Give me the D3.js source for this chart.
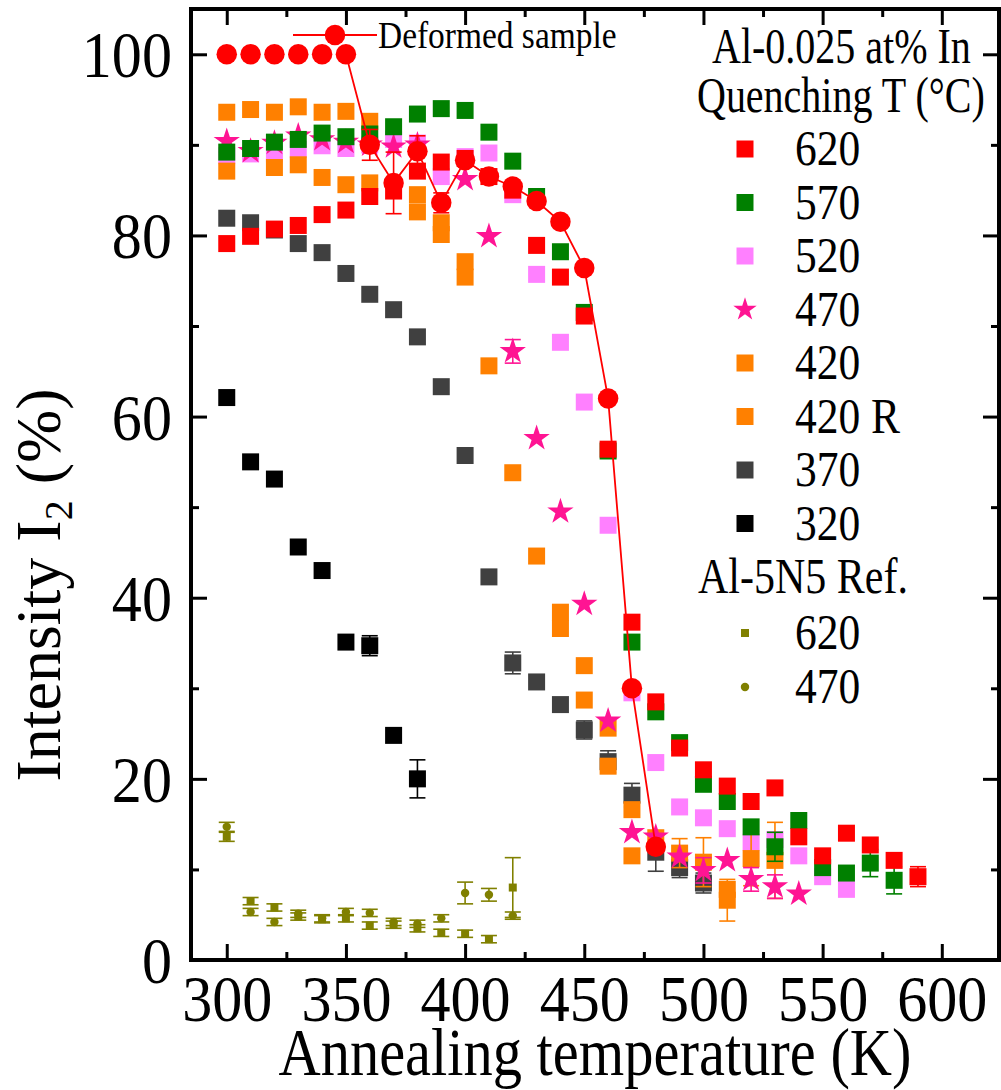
<!DOCTYPE html>
<html>
<head>
<meta charset="utf-8">
<script src="https://cdn.jsdelivr.net/npm/d3@7"></script>
<style>
  body { margin: 0; background: #fff; }
  text { font-family: "Liberation Serif", "Times New Roman", serif; fill: #000; }
</style>
</head>
<body>
<svg id="chart" width="1001" height="1090"></svg>
<script>
// Températures de recuit (K), communes à toutes les séries
const temps = [300, 310, 320, 330, 340, 350, 360, 370, 380, 390, 400, 410, 420, 430, 440,
               450, 460, 470, 480, 490, 500, 510, 520, 530, 540, 550, 560, 570, 580, 590];

// Intensité I2 (%) par température de trempe (°C)
const q620 = [79.1, 79.9, 80.7, 81.1, 82.3, 82.8, 84.3, 84.9, 87.1, 88.1, 88.5, 86.5, 85.0, 78.9, 75.4,
              71.1, 56.4, 37.3, 28.5, 23.4, 21.0, 19.2, 17.5, 19.0, 13.6, 11.5, 14.0, 12.7, 11.0, 9.2];
const q620Err = [0, 0, 0, 0, 0, 0, 0, 0, 0, 0, 0, 0, 0, 0, 0,
                 0, 0, 0, 0, 0, 0, 0, 0, 0, 0, 0, 0, 0, 0, 1.1];
const q570 = [89.2, 89.6, 90.3, 90.6, 91.3, 90.9, 91.2, 92.0, 93.4, 94.0, 93.8, 91.4, 88.2, 84.3, 78.2,
              71.5, 56.2, 35.1, 27.4, 24.0, 19.4, 17.5, 14.7, 12.5, 15.4, 10.2, 9.6, 10.7, 8.8, null];
const q570Err = [0, 0, 0, 0, 0, 0, 0, 0, 0, 0, 0, 0, 0, 0, 0,
                 0, 0, 0, 0, 0, 0, 0, 0, 1.6, 0, 0, 0, 1.5, 1.5, 0];
const q520 = [88.8, 89.0, 89.0, 89.5, 89.9, 89.6, 90.0, 90.6, 90.2, 86.5, 88.7, 89.1, 84.5, 75.7, 68.2,
              61.6, 48.0, 29.5, 21.8, 16.9, 15.7, 14.5, 13.0, 13.3, 11.5, 9.2, 7.8, null, null, null];
const q470 = [90.4, 89.3, 90.2, 91.0, 90.6, 90.3, 90.0, 89.8, 90.0, null, 86.2, 79.9, 67.2, 57.6, 49.5,
              39.3, 26.4, 14.1, 13.6, 11.4, 9.9, 11.0, 8.9, 8.1, 7.3, null, null, null, null, null];
const q470Err = [0, 0, 0, 0, 0, 0, 0, 0, 0, 0, 0, 0, 1.3, 0, 0,
                 0, 0, 0, 0, 0, 1.4, 0, 1.3, 1.3, 0, 0, 0, 0, 0, 0];
const q420 = [87.1, null, 87.5, 87.8, 86.4, 85.6, 85.8, null, 82.6, 80.1, 75.4, 65.6, 53.8, 44.6, 36.6,
              28.7, 21.4, 11.5, 13.5, 11.8, 10.8, 6.6, 11.2, 11.0, null, null, null, null, null, null];
const q420Err = [0, 0, 0, 0, 0, 0, 0, 0, 0, 0, 0, 0, 0, 0, 0,
                 0, 0, 0, 0, 1.6, 2.7, 2.3, 3.0, 4.2, 0, 0, 0, 0, 0, 0];
const q420R = [93.6, 93.9, 93.6, 94.2, 93.6, 93.7, 92.6, null, 84.5, 81.4, 77.1, null, null, null, 38.4,
               32.5, 25.6, 16.6, null, null, null, 7.8, null, null, null, null, null, null, null, null];
const q370 = [81.9, 81.4, 80.6, 79.1, 78.1, 75.8, 73.5, 71.8, 68.8, 63.3, 55.7, 42.3, 32.8, 30.7, 28.2,
              25.4, 21.9, 18.2, 11.9, 10.2, 8.5, null, null, null, null, null, null, null, null, null];
const q370Err = [0, 0, 0, 0, 0, 0, 0, 0, 0, 0, 0, 0, 1.2, 0, 0,
                 1.0, 1.2, 1.3, 2.1, 1.1, 1.1, 0, 0, 0, 0, 0, 0, 0, 0, 0];
const q320 = [62.1, 55.0, 53.1, 45.6, 43.0, 35.1, 34.7, 24.8, 20.0];
const q320Err = [0, 0, 0, 0, 0, 0, 1.1, 0, 2.1];

// Référence Al-5N5
const ref620 = [13.6, 6.5, 5.8, 4.8, 4.5, 4.6, 3.8, 3.9, 3.5, 3.0, 2.9, 2.3, 8.0];
const ref620Err = [0.5, 0.4, 0.4, 0.4, 0.4, 0.4, 0.4, 0.4, 0.4, 0.4, 0.4, 0.4, 3.3];
const ref470 = [14.7, 5.3, 4.2, 5.1, 4.6, 5.3, 5.2, 4.2, 4.0, 4.6, 7.4, 7.2, 4.9];
const ref470Err = [0.5, 0.4, 0.4, 0.4, 0.4, 0.4, 0.4, 0.4, 0.4, 0.4, 1.2, 0.7, 0.4];

// Échantillon déformé
const deformed = [100, 100, 100, 100, 100, 100, 90.0, 85.8, 89.3, 83.6, 88.3, 86.5, 85.4, 83.8, 81.5,
                  76.4, 62.0, 30.0, 12.5];
const deformedErr = [0, 0, 0, 0, 0, 0, 1.7, 3.4, 1.7, 1.1, 0.6, 0, 0, 0, 0, 0, 0, 0, 0];

// Graduations et textes
const xMajor = [300, 350, 400, 450, 500, 550, 600];
const xMinor = [325, 375, 425, 475, 525, 575];
const yMajor = [0, 20, 40, 60, 80, 100];
const yMinor = [10, 30, 50, 70, 90];
const legendTitle = ["Al-0.025 at% In", "Quenching T (°C)"];
const legendLabels = ["620", "570", "520", "470", "420", "420 R", "370", "320"];
const refTitle = "Al-5N5 Ref.";
const refLabels = ["620", "470"];

const svg = d3.select("#chart");
const plot = { left: 191, right: 999, top: 9, bottom: 960 };

const x = d3.scaleLinear().domain([285, 624]).range([plot.left, plot.right]);
const y = d3.scaleLinear().domain([0, 105]).range([plot.bottom, plot.top]);

svg.append("rect").attr("width", 1001).attr("height", 1090).attr("fill", "#fff");

// Texte un peu condensé comme sur la figure d'origine
function label(str, px, py, size, sx, anchor = "start") {
  return svg.append("text")
    .attr("transform", `translate(${px},${py}) scale(${sx},1)`)
    .attr("font-size", size)
    .attr("text-anchor", anchor)
    .text(str);
}

// Construit une liste de points à partir d'un tableau de valeurs
function points(vals, errs) {
  return vals.map((v, i) => ({ t: temps[i], v, e: errs ? errs[i] : 0 }))
    .filter(d => d.v != null);
}

const sym = {
  square: d3.symbol().type(d3.symbolSquare).size(289),
  star: d3.symbol().type(d3.symbolStar).size(215),
  circle: d3.symbol().type(d3.symbolCircle).size(330),
  smallSquare: d3.symbol().type(d3.symbolSquare).size(64),
  smallCircle: d3.symbol().type(d3.symbolCircle).size(56)
};

// Ordre de tracé (du fond vers le dessus)
const series = [
  { vals: q370, err: q370Err, color: "#404040", shape: "square" },
  { vals: q320, err: q320Err, color: "#000000", shape: "square" },
  { vals: q520, err: null, color: "#ff80ff", shape: "square" },
  { vals: q420, err: q420Err, color: "#ff8000", shape: "square" },
  { vals: q420R, err: null, color: "#ff8000", shape: "square" },
  { vals: q470, err: q470Err, color: "#ff1493", shape: "star" },
  { vals: q570, err: q570Err, color: "#008000", shape: "square" },
  { vals: q620, err: q620Err, color: "#ff0000", shape: "square" },
  { vals: ref620, err: ref620Err, color: "#808000", shape: "smallSquare" },
  { vals: ref470, err: ref470Err, color: "#808000", shape: "smallCircle" }
];

function drawSeries(s, g) {
  const pts = points(s.vals, s.err);
  const eb = g.append("g").attr("stroke", s.color).attr("stroke-width", 1.6);
  pts.filter(d => d.e > 0).forEach(d => {
    const cx = x(d.t), y0 = y(d.v - d.e), y1 = y(d.v + d.e);
    eb.append("line").attr("x1", cx).attr("x2", cx).attr("y1", y0).attr("y2", y1);
    eb.append("line").attr("x1", cx - 8).attr("x2", cx + 8).attr("y1", y0).attr("y2", y0);
    eb.append("line").attr("x1", cx - 8).attr("x2", cx + 8).attr("y1", y1).attr("y2", y1);
  });
  g.selectAll(null).data(pts).join("path")
    .attr("transform", d => `translate(${x(d.t)},${y(d.v)})`)
    .attr("d", sym[s.shape]())
    .attr("fill", s.color);
}

const marks = svg.append("g");
series.forEach(s => drawSeries(s, marks.append("g")));

// Échantillon déformé : courbe (à partir de 350 K) + cercles
const defPts = points(deformed, deformedErr);
marks.append("path")
  .datum(defPts.filter(d => d.t >= 350))
  .attr("fill", "none")
  .attr("stroke", "#ff0000")
  .attr("stroke-width", 1.8)
  .attr("d", d3.line().x(d => x(d.t)).y(d => y(d.v)));
drawSeries({ vals: deformed, err: deformedErr, color: "#ff0000", shape: "circle" }, marks.append("g"));

// Axes (graduations vers l'intérieur)
function styleAxis(g) {
  g.select(".domain").remove();
  g.selectAll(".tick line").attr("stroke", "#000").attr("stroke-width", 3);
}

svg.append("g").attr("transform", `translate(0,${plot.bottom})`)
  .call(d3.axisBottom(x).tickValues(xMajor).tickSize(-16).tickFormat(d3.format("d")))
  .call(styleAxis)
  .call(g => g.selectAll("text")
    .attr("y", 61).attr("dy", null)
    .attr("font-size", 66).attr("font-family", "Liberation Serif")
    .attr("fill", "#000").attr("transform", "scale(0.91,1)"));
svg.append("g").attr("transform", `translate(0,${plot.bottom})`)
  .call(d3.axisBottom(x).tickValues(xMinor).tickSize(-8).tickFormat(""))
  .call(styleAxis);
svg.append("g").attr("transform", `translate(0,${plot.top})`)
  .call(d3.axisTop(x).tickValues(xMajor).tickSize(-16).tickFormat(""))
  .call(styleAxis);
svg.append("g").attr("transform", `translate(0,${plot.top})`)
  .call(d3.axisTop(x).tickValues(xMinor).tickSize(-8).tickFormat(""))
  .call(styleAxis);

svg.append("g").attr("transform", `translate(${plot.left},0)`)
  .call(d3.axisLeft(y).tickValues(yMajor).tickSize(-16).tickFormat(d3.format("d")))
  .call(styleAxis)
  .call(g => g.selectAll("text")
    .attr("x", -21).attr("dy", "0.34em")
    .attr("font-size", 66).attr("font-family", "Liberation Serif")
    .attr("fill", "#000").attr("transform", "scale(0.91,1)"));
svg.append("g").attr("transform", `translate(${plot.left},0)`)
  .call(d3.axisLeft(y).tickValues(yMinor).tickSize(-8).tickFormat(""))
  .call(styleAxis);
svg.append("g").attr("transform", `translate(${plot.right},0)`)
  .call(d3.axisRight(y).tickValues(yMajor).tickSize(-16).tickFormat(""))
  .call(styleAxis);
svg.append("g").attr("transform", `translate(${plot.right},0)`)
  .call(d3.axisRight(y).tickValues(yMinor).tickSize(-8).tickFormat(""))
  .call(styleAxis);

// Cadre
svg.append("rect")
  .attr("x", plot.left).attr("y", plot.top)
  .attr("width", plot.right - plot.left).attr("height", plot.bottom - plot.top)
  .attr("fill", "none").attr("stroke", "#000").attr("stroke-width", 4);

// Titres des axes
label("Annealing temperature (K)", (plot.left + plot.right) / 2, 1075, 68, 0.86, "middle");

const yt = svg.append("text")
  .attr("transform", "translate(60,585) rotate(-90)")
  .attr("font-size", 64)
  .attr("text-anchor", "middle");
yt.append("tspan").text("Intensity I");
yt.append("tspan").attr("font-size", 40).attr("dy", 12).text("2");
yt.append("tspan").attr("dy", -12).text(" (%)");

// Légende : échantillon déformé
const dl = svg.append("g");
dl.append("line").attr("x1", 293).attr("x2", 377).attr("y1", 35).attr("y2", 35)
  .attr("stroke", "#ff0000").attr("stroke-width", 1.8);
dl.append("path").attr("transform", "translate(335,35)").attr("d", sym.circle()).attr("fill", "#ff0000");
label("Deformed sample", 378, 48, 38, 0.88);

// Légende : températures de trempe
label(legendTitle[0], 712, 63, 50, 0.8);
label(legendTitle[1], 697, 112, 50, 0.8);
const legendSeries = [series[7], series[6], series[2], series[5], series[3], series[4], series[0], series[1]];
legendLabels.forEach((t, i) => {
  const cy = 149 + i * 53.5;
  const s = legendSeries[i];
  svg.append("path").attr("transform", `translate(745,${cy})`)
    .attr("d", s.shape === "star" ? d3.symbol().type(d3.symbolStar).size(170)() : sym.square())
    .attr("fill", s.color);
  label(t, 795, cy + 16, 50, 0.87);
});

// Légende : référence
label(refTitle, 698, 593, 50, 0.84);
[series[8], series[9]].forEach((s, i) => {
  const cy = 633 + i * 54;
  svg.append("path").attr("transform", `translate(745,${cy})`)
    .attr("d", sym[s.shape]()).attr("fill", s.color);
  label(refLabels[i], 795, cy + 16, 50, 0.87);
});
</script>
</body>
</html>
